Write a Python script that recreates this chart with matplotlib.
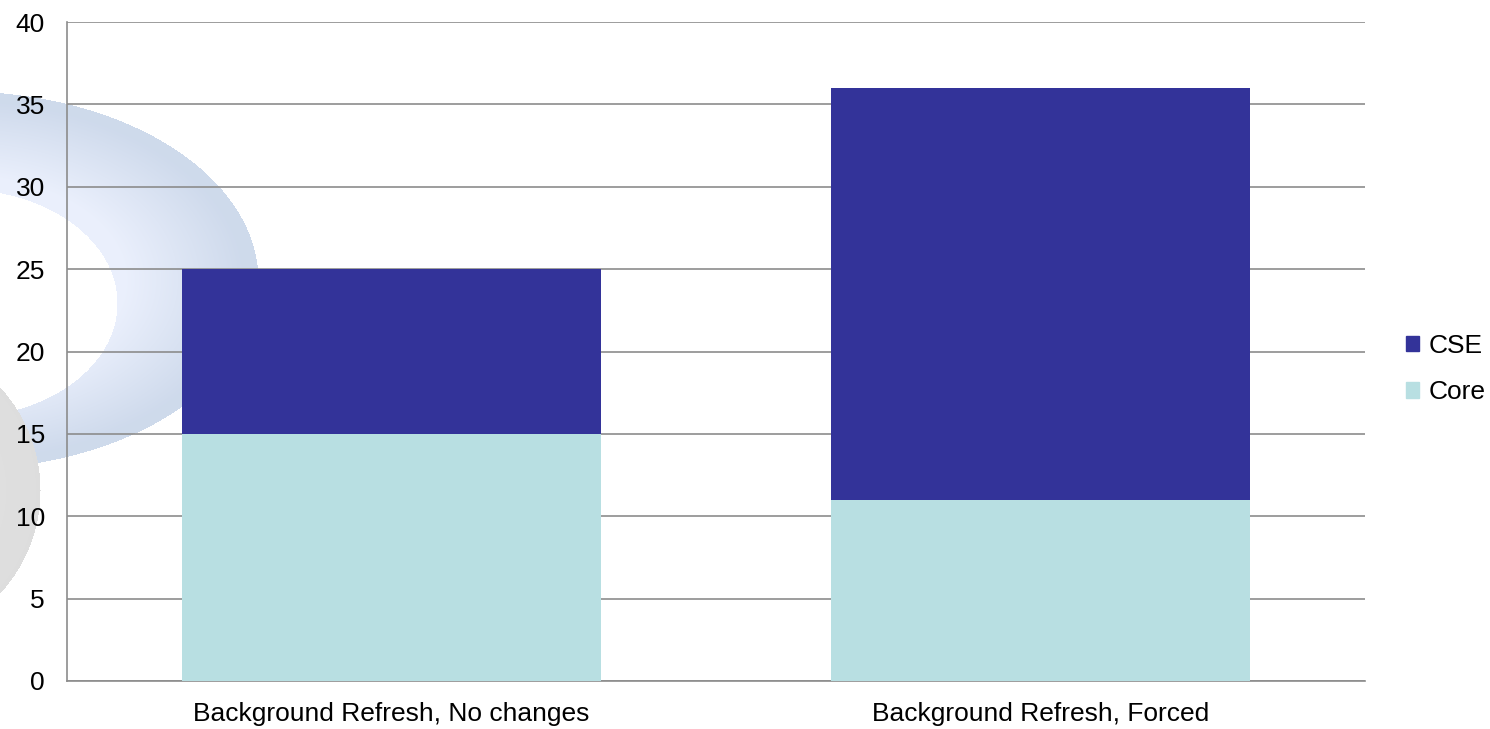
import numpy as np
import matplotlib.pyplot as plt
from matplotlib.patches import Patch

plt.rcParams['font.family'] = ['Liberation Sans', 'DejaVu Sans']

categories = ["Background Refresh, No changes", "Background Refresh, Forced"]
core = [15, 11]
cse = [10, 25]
yticks = [0, 5, 10, 15, 20, 25, 30, 35, 40]

W, H = 1490, 729
fig = plt.figure(figsize=(W / 100, H / 100), dpi=100)

# decorative background swoosh (pixel coordinates)
bg = fig.add_axes([0, 0, 1, 1], zorder=0)
bg.set_xlim(0, W)
bg.set_ylim(H, 0)
bg.axis("off")
xx, yy = np.meshgrid(np.arange(W), np.arange(H))
img = np.ones((H, W, 4))
img[..., 3] = 0

# blue ring
ro = ((xx + 40) / 298) ** 2 + ((yy - 280) / 189) ** 2
ri = ((xx + 40) / 157) ** 2 + ((yy - 303) / 114) ** 2
ring = (ro <= 1) & (ri >= 1)
t = np.clip((np.sqrt(ro) - 0.55) / 0.4, 0, 1)
c_in = np.array([0.92, 0.94, 0.99])
c_out = np.array([0.81, 0.855, 0.925])
col = c_in + (c_out - c_in) * t[..., None]
img[ring, :3] = col[ring]
img[ring, 3] = 1

# gray disc
rd = np.sqrt((xx + 112) ** 2 + (yy - 490) ** 2) / 152
disc = rd <= 1
gcol = 0.89 - 0.02 * np.clip(rd, 0, 1)
img[disc, 0] = gcol[disc]
img[disc, 1] = gcol[disc]
img[disc, 2] = gcol[disc]
img[disc, 3] = 1
bg.imshow(img, extent=(0, W, H, 0), interpolation="bilinear", aspect="auto")

# main chart
ax = fig.add_axes([67 / W, 1 - 681 / H, (1365 - 67) / W, (681 - 22) / H], zorder=1)
ax.patch.set_alpha(0)
x = np.arange(len(categories))
bw = 0.645
ax.bar(x, core, bw, color="#b8dfe2", label="Core", zorder=3)
ax.bar(x, cse, bw, bottom=core, color="#333399", label="CSE", zorder=3)

ax.set_xlim(-0.5, 1.5)
ax.set_ylim(0, 40)
ax.set_yticks(yticks)
ax.set_xticks(x)
ax.set_xticklabels(categories)
ax.yaxis.grid(True, color="#8c8c8c", linewidth=1.2, zorder=1)
ax.set_axisbelow(True)
ax.tick_params(axis="both", length=0, labelsize=19, colors="black")
ax.tick_params(axis="y", pad=16)
ax.tick_params(axis="x", pad=15)
for s in ["top", "right"]:
    ax.spines[s].set_visible(False)
for s in ["left", "bottom"]:
    ax.spines[s].set_color("#8c8c8c")
    ax.spines[s].set_linewidth(1.2)

handles = [Patch(color="#333399", label="CSE"), Patch(color="#b8dfe2", label="Core")]
fig.legend(handles=handles, loc="center left", bbox_to_anchor=(1406 / W, 1 - 369 / H),
           frameon=False, fontsize=19, handlelength=0.5, handleheight=0.55,
           handletextpad=0.35, labelspacing=0.85, borderaxespad=0, borderpad=0)

fig.savefig("out.png", dpi=100)
